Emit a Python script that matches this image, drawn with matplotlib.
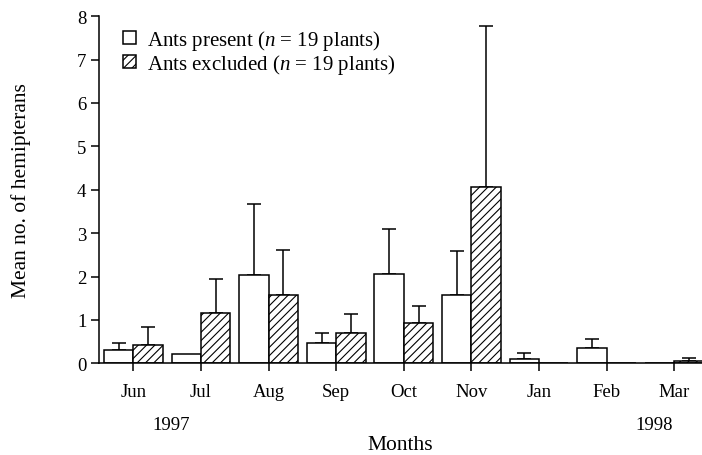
import matplotlib
matplotlib.use("Agg")
import matplotlib.pyplot as plt
from matplotlib.patches import Patch
import numpy as np

plt.rcParams['font.family'] = ['Liberation Serif', 'DejaVu Serif']
plt.rcParams['mathtext.fontset'] = 'custom'
plt.rcParams['mathtext.it'] = 'Liberation Serif:italic'
plt.rcParams['mathtext.rm'] = 'Liberation Serif'
plt.rcParams['hatch.linewidth'] = 0.8

months = ['Jun', 'Jul', 'Aug', 'Sep', 'Oct', 'Nov', 'Jan', 'Feb', 'Mar']
present = [0.30, 0.21, 2.04, 0.47, 2.05, 1.58, 0.11, 0.35, 0.0]
present_err = [0.18, 0.0, 1.64, 0.24, 1.04, 1.01, 0.12, 0.21, 0.0]
excluded = [0.43, 1.16, 1.57, 0.69, 0.94, 4.07, 0.0, 0.0, 0.06]
excluded_err = [0.40, 0.78, 1.04, 0.45, 0.38, 3.71, 0.0, 0.0, 0.06]
years = ['1997', '1998']

fig = plt.figure(figsize=(7.02, 4.56), dpi=100)
ax = fig.add_axes([0.141, 0.201, 0.859, 0.7615])

x = np.arange(len(months))
w = 0.435
lw = 1.1

ax.bar(x - w / 2, present, w, facecolor='white', edgecolor='black', linewidth=lw, zorder=2)
ax.bar(x + w / 2, excluded, w, facecolor='white', edgecolor='black', linewidth=lw,
       hatch='////', zorder=2)

def upper_err(xs, vals, errs):
    xs = np.asarray(xs)
    vals = np.asarray(vals)
    errs = np.asarray(errs)
    m = errs > 0
    ax.errorbar(xs[m], vals[m], yerr=[np.zeros(m.sum()), errs[m]], fmt='none',
                ecolor='black', elinewidth=lw, capsize=5, capthick=lw, zorder=1)

upper_err(x - w / 2, present, present_err)
upper_err(x + w / 2, excluded, excluded_err)

ax.set_xlim(-0.51, 8.41)
ax.set_ylim(0, 8)
ax.set_xticks(x)
ax.set_xticklabels(months, fontsize=13.5)
ax.set_yticks(range(0, 9))
ax.tick_params(axis='y', labelsize=13.5, length=6, width=lw, direction='out', pad=3)
ax.tick_params(axis='x', length=6, width=lw, direction='out', pad=8)
ax.spines['top'].set_visible(False)
ax.spines['right'].set_visible(False)
ax.spines['left'].set_linewidth(lw)
ax.spines['bottom'].set_linewidth(lw)

ax.set_ylabel('Mean no. of hemipterans', fontsize=15.5)
ax.yaxis.set_label_coords(-0.113, 0.5)
fig.text(0.57, 0.022, 'Months', fontsize=15.5, ha='center', va='center')

trans = ax.get_xaxis_transform()
ax.text(0.56, -0.177, years[0], transform=trans, fontsize=13.5, ha='center', va='center')
ax.text(7.7, -0.177, years[1], transform=trans, fontsize=13.5, ha='center', va='center')

handles = [Patch(facecolor='white', edgecolor='black', linewidth=lw),
           Patch(facecolor='white', edgecolor='black', linewidth=lw, hatch='////')]
labels = ['Ants present ($n$ = 19 plants)', 'Ants excluded ($n$ = 19 plants)']
ax.legend(handles, labels, loc='upper left', bbox_to_anchor=(0.026, 0.99), frameon=False,
          fontsize=15, handlelength=0.62, handleheight=0.62, handletextpad=0.55,
          labelspacing=0.0, borderaxespad=0)

fig.savefig('out.png', dpi=100)
